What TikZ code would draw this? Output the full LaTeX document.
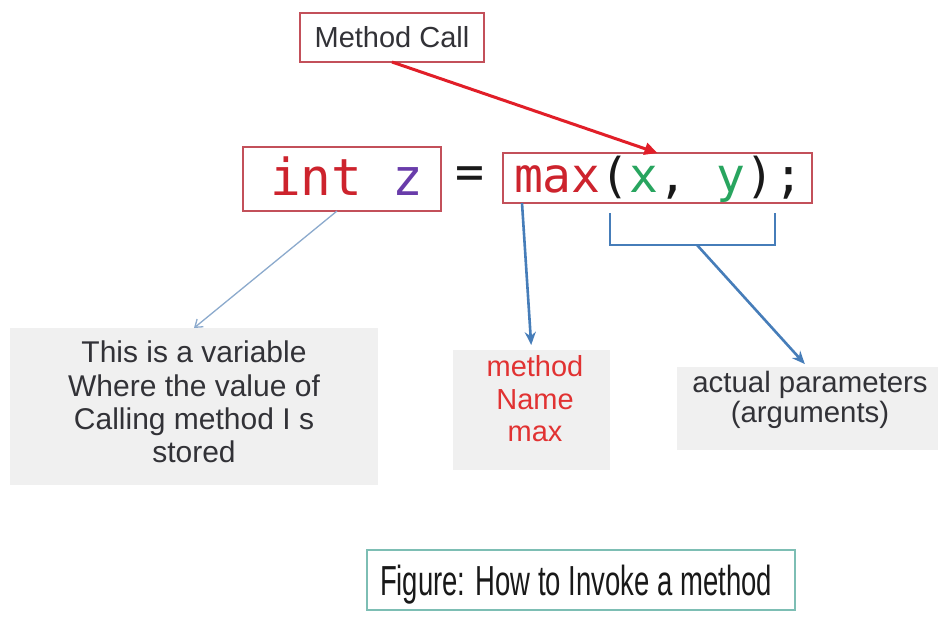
\documentclass[tikz,border=0pt]{standalone}
\usepackage{fontspec}
\usepackage{graphicx}
\setmainfont{Liberation Sans}
\newfontfamily\codefont{DejaVu Sans Mono}
\usetikzlibrary{arrows.meta}
\definecolor{codered}{RGB}{205,35,45}
\definecolor{codepurple}{RGB}{105,60,170}
\definecolor{codegreen}{RGB}{40,165,95}
\definecolor{codeblack}{RGB}{25,25,25}
\definecolor{boxred}{RGB}{195,80,90}
\definecolor{arrowred}{RGB}{225,30,40}
\definecolor{lineblue}{RGB}{70,125,185}
\definecolor{thinblue}{RGB}{140,170,205}
\definecolor{boxgray}{RGB}{240,240,240}
\definecolor{labeltext}{RGB}{50,50,55}
\definecolor{namered}{RGB}{225,50,50}
\definecolor{captionline}{RGB}{125,190,180}
\begin{document}
\begin{tikzpicture}[x=1pt,y=-1pt,
  redbox/.style={draw=boxred, line width=1.2pt, inner sep=0pt, outer sep=0pt},
  graybox/.style={fill=boxgray, inner sep=0pt, outer sep=0pt},
  plaintext/.style={inner sep=0pt, outer sep=0pt},
  redarrow/.style={draw=arrowred, line width=3pt, -{Triangle[length=13pt,width=12pt]}},
  bluearrow/.style={draw=lineblue, line width=2.6pt, -{Stealth[length=13pt,width=11pt]}},
  blueline/.style={draw=lineblue, line width=2.6pt, line join=miter},
  thinarrow/.style={draw=thinblue, line width=1.3pt, -{Straight Barb[length=7pt,width=10pt]}}]
\useasboundingbox (0,0) rectangle (938,633);
\fill[white] (0,0) rectangle (938,633);

% Method Call
\node[redbox, minimum width=184pt, minimum height=49pt, text=labeltext,
      font=\fontsize{29}{33}\selectfont] (mc) at (392,37.5) {Method Call};

% int z
\node[redbox, minimum width=198pt, minimum height=64pt] (iz) at (342,179) {};
\node[plaintext, anchor=base west, font=\codefont\fontsize{51}{51}\selectfont] (izt) at (270,195)
  {\textcolor{codered}{int} \textcolor{codepurple}{z}};

% equals
\node[plaintext, text=codeblack, font=\codefont\fontsize{48}{48}\selectfont] (eq) at (470,178) {=};

% max(x, y);
\node[redbox, minimum width=309pt, minimum height=50pt] (mx) at (657.5,178) {};
\node[plaintext, anchor=base west, text=codeblack, font=\codefont\fontsize{48}{48}\selectfont] (mxt) at (514,192)
  {\textcolor{codered}{max}(\textcolor{codegreen}{x}, \textcolor{codegreen}{y});};

% gray boxes
\node[graybox, minimum width=368pt, minimum height=157pt] (vb) at (194,406.5) {};
\node[plaintext, align=center, text=labeltext, font=\fontsize{30}{33.3}\selectfont] (vt) at (194,402)
  {This is a variable\\Where the value of\\Calling method I s\\stored};

\node[graybox, minimum width=157pt, minimum height=120pt] (mb) at (531.5,410) {};
\node[plaintext, align=center, text=namered, font=\fontsize{29}{32.5}\selectfont] (mt) at (535,399)
  {method\\Name\\max};

\node[graybox, minimum width=261pt, minimum height=83pt] (ab) at (807.5,408.5) {};
\node[plaintext, align=center, text=labeltext, font=\fontsize{29.4}{30}\selectfont] (at) at (810,399.5)
  {actual parameters\\(arguments)};

% caption
\node[draw=captionline, line width=1.5pt, inner sep=0pt, outer sep=0pt,
      minimum width=428pt, minimum height=60pt] (cap) at (581,580) {};
\node[plaintext, anchor=base, text=codeblack] (capt) at (576,595)
  {\resizebox{392pt}{\height}{\fontsize{42}{42}\selectfont Figure: How to Invoke a method}};

% connectors
\draw[redarrow] (mc.south) -- (mx.north);
\draw[thinarrow] ([xshift=-5pt]iz.south) -- (vb.north);
\coordinate (mfoot) at (522,203);
\draw[bluearrow, shorten >=5pt] (mfoot) -- (mb.north);
\coordinate (bl) at (610,213);
\coordinate (br) at (775,213);
\coordinate (bmid) at (697,245);
\draw[blueline] (bl) -- ++(0,32) -| (br);
\draw[bluearrow, shorten >=4pt] (bmid) -- (ab.north);
\end{tikzpicture}
\end{document}
